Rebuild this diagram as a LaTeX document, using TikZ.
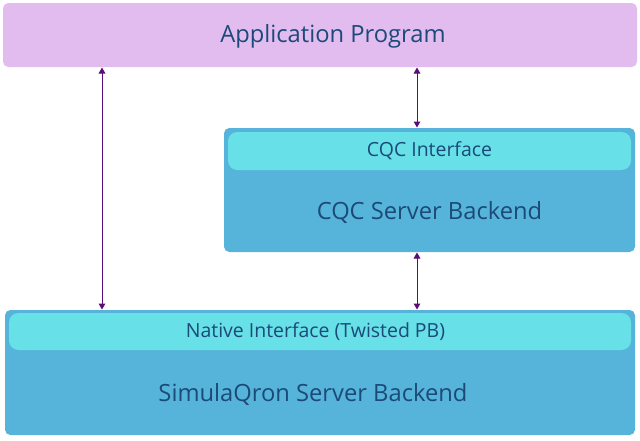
\documentclass[tikz,border=0pt]{standalone}
\usepackage{fontspec}
\setmainfont{Open Sans}
\usetikzlibrary{arrows.meta,fit}

\definecolor{appfill}{HTML}{E2BCEF}
\definecolor{backfill}{HTML}{56B4DA}
\definecolor{iffill}{HTML}{67E0E7}
\definecolor{txtblue}{HTML}{1B4A78}
\definecolor{arrowpurple}{HTML}{5A0C78}

\tikzset{every picture/.style={line width=0.75pt}}

\begin{document}
\begin{tikzpicture}[x=0.75pt,y=0.75pt,yscale=-1,xscale=1,
  box/.style={inner sep=0pt, rounded corners=4pt},
  ifbox/.style={inner sep=0pt, rounded corners=7pt, fill=iffill},
  bigtext/.style={font=\fontsize{17.8}{21}\selectfont, text=txtblue},
  smalltext/.style={font=\fontsize{14.6}{17}\selectfont, text=txtblue},
  link/.style={draw=arrowpurple, line width=0.75pt, {Triangle[width=5pt,length=4.5pt]}-{Triangle[width=5pt,length=4.5pt]}}]
\useasboundingbox (0,0) rectangle (640,440);

%Application box
\node [box, fill=appfill, fit={(3,3) (637,67)}] (app) {};
\node [bigtext] (apptxt) at (333,36) {Application Program};

%CQC backend with its interface on top
\node [box, fill=backfill, fit={(224,128) (635,252)}] (cqc) {};
\node [ifbox, fit={(228,132) (631,170)}] (cqcif) {};
\node [smalltext] (cqciftxt) at (429.5,151) {CQC Interface};
\node [bigtext] (cqctxt) at (429.5,212) {CQC Server Backend};

%SimulaQron backend with native interface
\node [box, fill=backfill, fit={(5,310) (635,435)}] (sim) {};
\node [ifbox, fit={(9,313) (631,350)}] (natif) {};
\node [smalltext] (natiftxt) at (315.5,331.5) {Native Interface (Twisted PB)};
\node [bigtext] (simtxt) at (313,394) {SimulaQron Server Backend};

%arrow columns
\coordinate (lx) at (102,0);
\coordinate (rx) at (417,0);

\draw [link] (app.south -| lx) -- (sim.north -| lx);
\draw [link] (app.south -| rx) -- (cqc.north -| rx);
\draw [link] (cqc.south -| rx) -- (sim.north -| rx);

\end{tikzpicture}
\end{document}
